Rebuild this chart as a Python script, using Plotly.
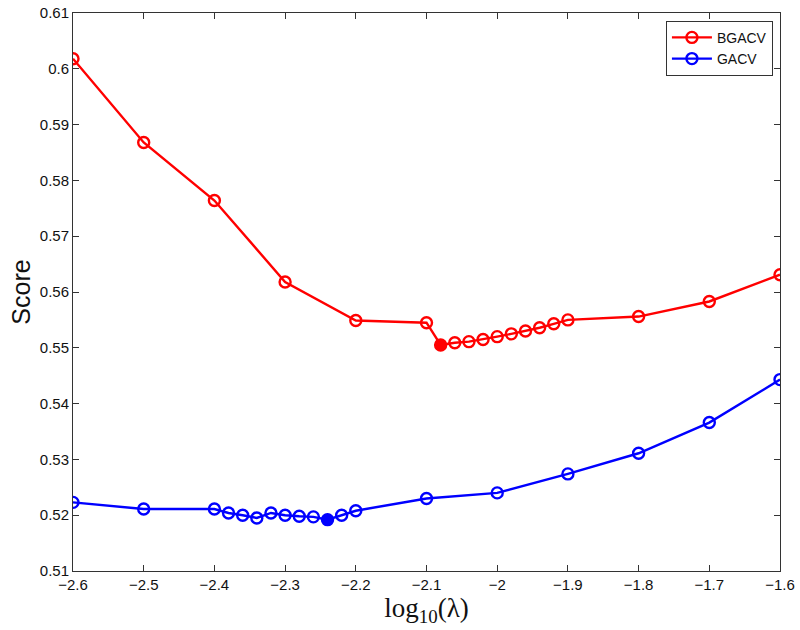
import numpy as np
import plotly.graph_objects as go

# ---- data ----
bgacv_x = [-2.6, -2.5, -2.4, -2.3, -2.2, -2.1, -2.08, -2.06, -2.04, -2.02, -2.0,
           -1.98, -1.96, -1.94, -1.92, -1.9, -1.8, -1.7, -1.6]
bgacv_y = [0.6018, 0.5868, 0.5764, 0.5618, 0.5549, 0.5545, 0.5505, 0.5509, 0.5511,
           0.5515, 0.5520, 0.5525, 0.5530, 0.5536, 0.5543, 0.5550, 0.5556, 0.5583, 0.5631]

gacv_x = [-2.6, -2.5, -2.4, -2.38, -2.36, -2.34, -2.32, -2.3, -2.28, -2.26, -2.24,
          -2.22, -2.2, -2.1, -2.0, -1.9, -1.8, -1.7, -1.6]
gacv_y = [0.5223, 0.5211, 0.5211, 0.5204, 0.5200, 0.5195, 0.5204, 0.5200, 0.5198,
          0.5197, 0.5192, 0.5200, 0.5208, 0.5230, 0.5240, 0.5274, 0.5311, 0.5366, 0.5443]

x_ticks = [-2.6, -2.5, -2.4, -2.3, -2.2, -2.1, -2.0, -1.9, -1.8, -1.7, -1.6]
x_ticklabels = ["\u22122.6", "\u22122.5", "\u22122.4", "\u22122.3", "\u22122.2", "\u22122.1",
                "\u22122", "\u22121.9", "\u22121.8", "\u22121.7", "\u22121.6"]
y_ticks = [0.51, 0.52, 0.53, 0.54, 0.55, 0.56, 0.57, 0.58, 0.59, 0.60, 0.61]
y_ticklabels = ["0.51", "0.52", "0.53", "0.54", "0.55", "0.56", "0.57", "0.58", "0.59", "0.6", "0.61"]

series = [("BGACV", bgacv_x, bgacv_y, "#ff0000"),
          ("GACV", gacv_x, gacv_y, "#0000ff")]

fig = go.Figure()
for name, xs, ys, col in series:
    fig.add_trace(go.Scatter(
        x=xs, y=ys, name=name, mode="lines+markers",
        line=dict(color=col, width=2.4),
        marker=dict(symbol="circle-open", size=11, color=col, line=dict(width=2.4, color=col)),
    ))
for name, xs, ys, col in series:
    i = int(np.argmin(ys))
    fig.add_trace(go.Scatter(
        x=[xs[i]], y=[ys[i]], mode="markers", showlegend=False,
        marker=dict(symbol="circle", size=12, color=col),
    ))

axis_common = dict(
    showgrid=False, zeroline=False, showline=True, linecolor="#333333", linewidth=1,
    mirror="ticks", ticks="inside", ticklen=6, tickcolor="#333333", tickwidth=1,
    automargin=False,
    tickfont=dict(family="Liberation Sans, Arial, sans-serif", size=15, color="#111111"),
)

fig.update_layout(
    width=800, height=630,
    margin=dict(l=73, r=20, t=13, b=59),
    paper_bgcolor="white", plot_bgcolor="white",
    xaxis=dict(range=[-2.6, -1.6], tickmode="array", tickvals=x_ticks, ticktext=x_ticklabels,
               title=dict(text="log<sub>10</sub>(\u03bb)",
                          font=dict(family="Liberation Serif, DejaVu Serif, serif", size=27, color="#111111"),
                          standoff=2),
               **axis_common),
    yaxis=dict(range=[0.51, 0.61], tickmode="array", tickvals=y_ticks, ticktext=y_ticklabels,
               title=dict(text="Score", font=dict(family="Liberation Sans, Arial, sans-serif", size=25, color="#111111"),
                          standoff=2),
               **axis_common),
    legend=dict(x=0.99, y=0.986, xanchor="right", yanchor="top",
                bgcolor="white", bordercolor="#333333", borderwidth=1,
                font=dict(family="Liberation Sans, Arial, sans-serif", size=14, color="#111111"),
                tracegroupgap=0, itemwidth=40),
    showlegend=True,
)

fig.write_html("out.html", config={"displayModeBar": False},
               post_script="document.body.style.margin='0';document.body.style.padding='0';")
